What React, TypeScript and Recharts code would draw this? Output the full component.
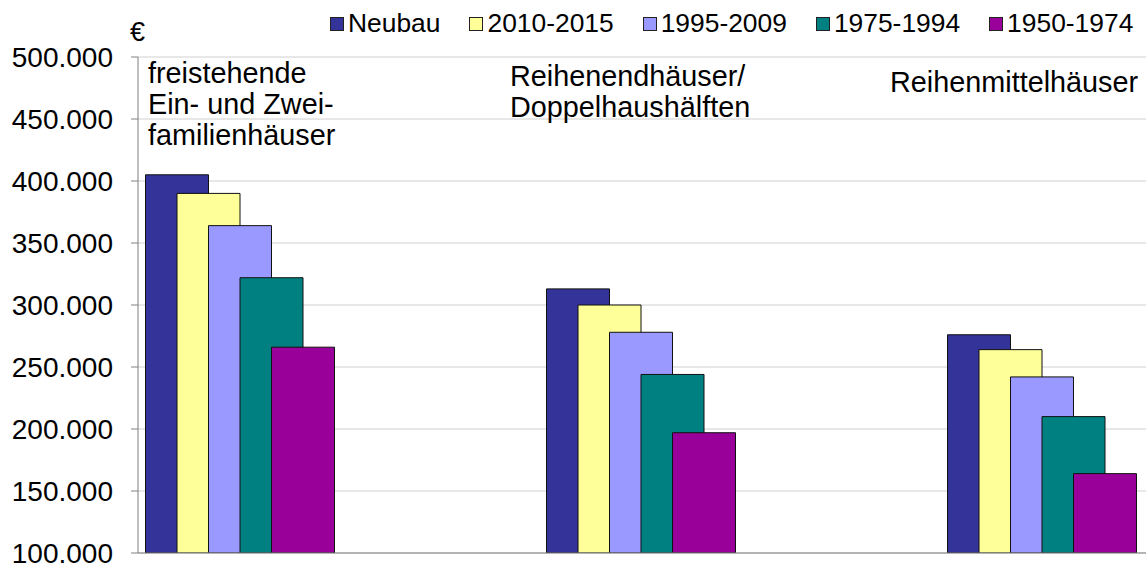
import React from 'react'
import { BarChart, Bar, XAxis, YAxis, CartesianGrid, ReferenceLine } from 'recharts'

// Kategorien (Haustypen) und ihre Beschriftung im Diagramm
const categories = ['freistehende Ein- und Zweifamilienhäuser', 'Reihenendhäuser/Doppelhaushälften', 'Reihenmittelhäuser']
const categoryLines = [
  ['freistehende', 'Ein- und Zwei-', 'familienhäuser'],
  ['Reihenendhäuser/', 'Doppelhaushälften'],
  ['Reihenmittelhäuser'],
]

// Baujahresklassen
const seriesNames = ['Neubau', '2010-2015', '1995-2009', '1975-1994', '1950-1974']
const neubau = [405000, 313000, 276000]
const bj2010 = [390000, 300000, 264000]
const bj1995 = [364000, 278000, 242000]
const bj1975 = [322000, 244000, 210000]
const bj1950 = [266000, 197000, 164000]
const seriesValues = [neubau, bj2010, bj1995, bj1975, bj1950]

const yTicks = [100000, 150000, 200000, 250000, 300000, 350000, 400000, 450000, 500000]
const colors = ['#333399', '#FFFF99', '#9999FF', '#008080', '#990099']

const FONT = '"Liberation Sans", Arial, sans-serif'

const chartData = categories.map((name, i) => {
  const row: Record<string, string | number> = { name }
  seriesNames.forEach((s, j) => {
    row[s] = seriesValues[j][i]
  })
  return row
})

const formatEuro = (v: number) => String(v).replace(/\B(?=(\d{3})+(?!\d))/g, '.')

// Beschriftung der Haustypen oben im Diagrammbereich
const labelShift = [-92, -131, -152]
const labelTop = [83, 86, 92]

const CategoryTick = (props: any) => {
  const { x, payload } = props
  const i = categories.indexOf(payload.value)
  if (i < 0) return null
  return (
    <text x={x + labelShift[i]} y={labelTop[i]} fontSize={28.8} fontFamily={FONT} fill="#000" textAnchor="start">
      {categoryLines[i].map((line, k) => (
        <tspan key={k} x={x + labelShift[i]} dy={k === 0 ? 0 : 31}>
          {line}
        </tspan>
      ))}
    </text>
  )
}

const LegendRow = () => (
  <div
    style={{
      position: 'absolute',
      left: 330,
      top: 8,
      display: 'flex',
      alignItems: 'center',
      whiteSpace: 'nowrap',
      fontFamily: FONT,
      fontSize: 26.4,
      color: '#000',
    }}
  >
    {seriesNames.map((s, i) => (
      <div key={s} style={{ display: 'flex', alignItems: 'center', marginRight: 29 }}>
        <span
          style={{
            width: 12,
            height: 12,
            background: colors[i],
            border: '1px solid #222',
            marginRight: 4,
            display: 'inline-block',
          }}
        />
        <span>{s}</span>
      </div>
    ))}
  </div>
)

export default function App() {
  return (
    <div style={{ position: 'absolute', left: 0, top: 0, width: 1146, height: 563, background: '#fff', overflow: 'hidden' }}>
      <div style={{ position: 'absolute', left: 130, top: 17, fontFamily: FONT, fontSize: 27, color: '#000' }}>€</div>
      <LegendRow />
      <BarChart
        width={1146}
        height={563}
        data={chartData}
        margin={{ top: 56, right: 0, bottom: 10, left: 0 }}
        barSize={63}
        barGap={-31.5}
      >
        <CartesianGrid vertical={false} stroke="#d0d0d0" />
        <XAxis
          dataKey="name"
          orientation="top"
          height={1}
          axisLine={false}
          tickLine={false}
          interval={0}
          padding={{ left: -98.5, right: -96.5 }}
          tick={<CategoryTick />}
        />
        <YAxis
          width={138}
          domain={[100000, 500000]}
          ticks={yTicks}
          interval={0}
          allowDataOverflow
          tickFormatter={formatEuro}
          tick={{ fontSize: 28, fill: '#000', fontFamily: FONT }}
          tickSize={7}
          tickMargin={18}
          stroke="#808080"
        />
        <ReferenceLine y={100000} stroke="#808080" />
        {seriesNames.map((s, i) => (
          <Bar key={s} dataKey={s} fill={colors[i]} stroke="#111" strokeWidth={1} isAnimationActive={false} />
        ))}
      </BarChart>
    </div>
  )
}
